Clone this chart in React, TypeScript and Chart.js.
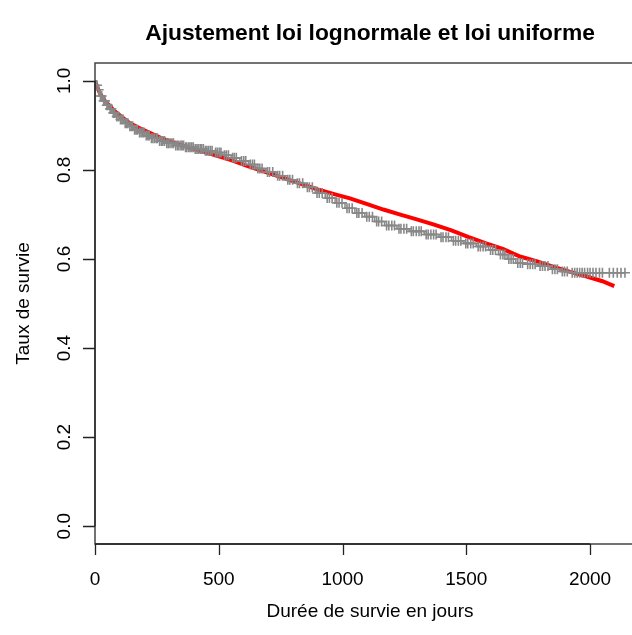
import React, { useEffect, useRef } from "react";
import { Chart, registerables } from "chart.js";

Chart.register(...registerables);

const titleText = "Ajustement loi lognormale et loi uniforme";
const xAxisTitle = "Durée de survie en jours";
const yAxisTitle = "Taux de survie";

const xTicks = [0, 500, 1000, 1500, 2000];
const xTickLabels = ["0", "500", "1000", "1500", "2000"];
const yTicks = [0, 0.2, 0.4, 0.6, 0.8, 1.0];
const yTickLabels = ["0.0", "0.2", "0.4", "0.6", "0.8", "1.0"];

// Kaplan-Meier estimate (step function)
const kmTimes = [
  0, 5, 12, 20, 30, 42, 55, 70, 85, 100, 118, 135, 155, 175, 200, 225, 255, 285, 320, 360,
  400, 440, 480, 515, 550, 585, 620, 650, 690, 730, 770, 810, 850, 890, 930, 970, 1010, 1050,
  1090, 1130, 1170, 1220, 1270, 1330, 1390, 1440, 1490, 1540, 1590, 1630, 1665, 1700, 1740,
  1790, 1840, 1880, 1920, 2141,
];
const kmSurv = [
  1.0, 0.99, 0.98, 0.966, 0.955, 0.945, 0.937, 0.928, 0.92, 0.913, 0.905, 0.898, 0.89, 0.884,
  0.877, 0.871, 0.865, 0.86, 0.855, 0.851, 0.847, 0.843, 0.839, 0.833, 0.827, 0.82, 0.812,
  0.803, 0.795, 0.787, 0.778, 0.77, 0.761, 0.748, 0.737, 0.726, 0.714, 0.703, 0.695, 0.684,
  0.675, 0.668, 0.662, 0.655, 0.649, 0.641, 0.635, 0.628, 0.62, 0.61, 0.6, 0.591, 0.588,
  0.584, 0.577, 0.572, 0.569, 0.569,
];

// Censoring times (marked with +)
const censorTimes = [
  8, 15, 22, 27, 35, 40, 48, 52, 61, 66, 74, 80, 88, 95, 103, 109, 114, 122, 128, 133, 141, 147,
  152, 160, 166, 171, 180, 186, 193, 198, 207, 214, 219, 228, 234, 241, 248, 252, 261, 268, 274,
  281, 290, 296, 303, 311, 317, 326, 333, 339, 347, 352, 358, 366, 371, 379, 384, 391, 397, 405,
  412, 418, 425, 431, 438, 446, 452, 459, 466, 473, 487, 494, 502, 509, 523, 531, 539, 556, 563,
  571, 592, 601, 609, 627, 636, 644, 658, 666, 675, 697, 705, 718, 738, 746, 758, 779, 787, 798,
  818, 826, 839, 858, 866, 878, 897, 906, 918, 938, 947, 958, 977, 986, 998, 1018, 1027, 1039,
  1058, 1066, 1079, 1098, 1108, 1121, 1138, 1146, 1158, 1178, 1187, 1199, 1210, 1228, 1236, 1248,
  1259, 1278, 1286, 1298, 1309, 1318, 1338, 1346, 1357, 1368, 1378, 1398, 1406, 1418, 1428, 1448,
  1457, 1468, 1478, 1498, 1506, 1518, 1528, 1548, 1557, 1568, 1578, 1598, 1607, 1618, 1638, 1648,
  1656, 1672, 1681, 1690, 1708, 1718, 1727, 1748, 1758, 1768, 1778, 1798, 1808, 1818, 1830, 1848,
  1858, 1868, 1888, 1897, 1908, 1928, 1938, 1948, 1958, 1968, 1978, 1990, 2000, 2012, 2024, 2038,
  2050, 2078, 2094, 2110, 2125, 2141,
];

// Fitted survival (lognormal + uniform)
const fitTimes = [
  0, 10, 20, 40, 75, 110, 140, 175, 210, 270, 340, 410, 480, 550, 620, 690, 760, 830, 900, 970,
  1030, 1100, 1165, 1230, 1300, 1370, 1440, 1510, 1580, 1650, 1690, 1720, 1790, 1850, 1920, 1990,
  2050, 2098,
];
const fitSurv = [
  1.0, 0.985, 0.972, 0.955, 0.934, 0.918, 0.905, 0.895, 0.886, 0.871, 0.857, 0.845, 0.834, 0.822,
  0.808, 0.795, 0.782, 0.769, 0.756, 0.745, 0.736, 0.723, 0.711, 0.7, 0.689, 0.677, 0.664, 0.649,
  0.635, 0.622, 0.612, 0.605, 0.594, 0.583, 0.571, 0.56, 0.55, 0.539,
];

const FONT = "'Liberation Sans', Arial, Helvetica, sans-serif";

function kmAt(t: number): number {
  let v = kmSurv[0];
  for (let i = 0; i < kmTimes.length; i++) {
    if (kmTimes[i] <= t) v = kmSurv[i];
    else break;
  }
  return v;
}

const axesPlugin = {
  id: "rAxes",
  afterDraw(chart: any) {
    const { ctx, chartArea, scales } = chart;
    const xs = scales.x;
    const ys = scales.y;
    ctx.save();
    // box (left, top, bottom; right is outside the picture)
    ctx.strokeStyle = "#444";
    ctx.lineWidth = 1.5;
    ctx.beginPath();
    ctx.moveTo(chartArea.right + 2, chartArea.top);
    ctx.lineTo(chartArea.left, chartArea.top);
    ctx.lineTo(chartArea.left, chartArea.bottom);
    ctx.lineTo(chartArea.right + 2, chartArea.bottom);
    ctx.stroke();

    // x axis line + ticks
    ctx.strokeStyle = "#222";
    ctx.lineWidth = 1.3;
    ctx.beginPath();
    ctx.moveTo(xs.getPixelForValue(xTicks[0]), chartArea.bottom);
    ctx.lineTo(xs.getPixelForValue(xTicks[xTicks.length - 1]), chartArea.bottom);
    for (const t of xTicks) {
      const px = Math.round(xs.getPixelForValue(t)) + 0.5;
      ctx.moveTo(px, chartArea.bottom);
      ctx.lineTo(px, chartArea.bottom + 11);
    }
    ctx.stroke();
    // y axis line + ticks
    ctx.beginPath();
    ctx.moveTo(chartArea.left, ys.getPixelForValue(yTicks[0]));
    ctx.lineTo(chartArea.left, ys.getPixelForValue(yTicks[yTicks.length - 1]));
    for (const t of yTicks) {
      const py = Math.round(ys.getPixelForValue(t)) + 0.5;
      ctx.moveTo(chartArea.left, py);
      ctx.lineTo(chartArea.left - 12, py);
    }
    ctx.stroke();

    ctx.fillStyle = "#000";
    ctx.font = `19px ${FONT}`;
    ctx.textAlign = "center";
    ctx.textBaseline = "middle";
    xTicks.forEach((t, i) => {
      ctx.fillText(xTickLabels[i], xs.getPixelForValue(t), chartArea.bottom + 36);
    });
    yTicks.forEach((t, i) => {
      ctx.save();
      ctx.translate(chartArea.left - 30, ys.getPixelForValue(t));
      ctx.rotate(-Math.PI / 2);
      ctx.fillText(yTickLabels[i], 0, 0);
      ctx.restore();
    });

    const cx = (chartArea.left + chartArea.right) / 2;
    ctx.fillText(xAxisTitle, cx, chartArea.bottom + 68);
    ctx.save();
    ctx.translate(chartArea.left - 71, (chartArea.top + chartArea.bottom) / 2);
    ctx.rotate(-Math.PI / 2);
    ctx.fillText(yAxisTitle, 0, 0);
    ctx.restore();

    ctx.font = `bold 22.8px ${FONT}`;
    ctx.fillText(titleText, cx, 34);
    ctx.restore();
  },
};

export default function App() {
  const ref = useRef<HTMLCanvasElement | null>(null);
  useEffect(() => {
    if (!ref.current) return;
    const kmData = kmTimes.map((t, i) => ({ x: t, y: kmSurv[i] }));
    const censorData = censorTimes.map((t) => ({ x: t, y: kmAt(t) }));
    const fitData = fitTimes.map((t, i) => ({ x: t, y: fitSurv[i] }));
    const chart = new Chart(ref.current, {
      type: "scatter",
      data: {
        datasets: [
          {
            label: "KM",
            data: kmData,
            showLine: true,
            stepped: "before",
            borderColor: "#888888",
            borderWidth: 1.5,
            pointRadius: 0,
          },
          {
            label: "censure",
            data: censorData,
            showLine: false,
            pointStyle: "cross",
            pointRadius: 5,
            borderColor: "#888888",
            backgroundColor: "#888888",
            pointBorderWidth: 1.6,
          },
          {
            label: "ajustement",
            data: fitData,
            showLine: true,
            borderColor: "#ff0000",
            borderWidth: 4,
            pointRadius: 0,
            tension: 0,
          },
        ],
      } as any,
      options: {
        responsive: false,
        animation: false,
        devicePixelRatio: 1,
        layout: { padding: { left: 95, top: 63, right: 15, bottom: 91 } },
        plugins: { legend: { display: false }, tooltip: { enabled: false }, title: { display: false } },
        scales: {
          x: { type: "linear", min: 0, max: 2222, display: false },
          y: { type: "linear", min: -0.04, max: 1.04, display: false },
        },
        events: [],
      } as any,
      plugins: [axesPlugin],
    });
    return () => chart.destroy();
  }, []);
  return (
    <div style={{ position: "fixed", left: 0, top: 0, width: 632, height: 635, overflow: "hidden", background: "#fff" }}>
      <canvas ref={ref} width={660} height={635} style={{ display: "block" }} />
    </div>
  );
}
